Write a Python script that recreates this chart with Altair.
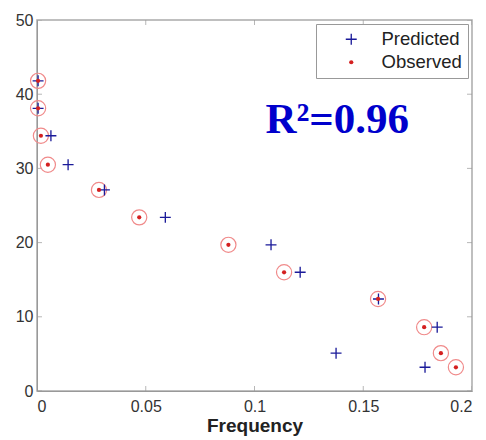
import altair as alt
import pandas as pd

# Data
obs_x = [0.0005, 0.0005, 0.0018, 0.005, 0.0285, 0.047, 0.088, 0.1136, 0.1568, 0.178, 0.1857, 0.1926]
obs_y = [41.8, 38.1, 34.4, 30.5, 27.1, 23.4, 19.7, 16.0, 12.4, 8.6, 5.1, 3.2]
pred_x = [0.0005, 0.0005, 0.0064, 0.0143, 0.031, 0.059, 0.1076, 0.121, 0.157, 0.184, 0.1375, 0.1784]
pred_y = [41.8, 38.1, 34.4, 30.5, 27.1, 23.4, 19.7, 16.0, 12.4, 8.6, 5.1, 3.2]
x_ticks = [0, 0.05, 0.1, 0.15, 0.2]
y_ticks = [0, 10, 20, 30, 40, 50]
series = ["Predicted", "Observed"]

df = pd.DataFrame({
    "x": pred_x + obs_x,
    "y": pred_y + obs_y,
    "s": ["Predicted"] * len(pred_x) + ["Observed"] * len(obs_x),
})
df["kind"] = df["s"]
obs = pd.DataFrame({"x": obs_x, "y": obs_y})
xt = pd.DataFrame({"v": x_ticks})
yt = pd.DataFrame({"v": y_ticks})

PLUS = "M-1,-0.12H-0.12V-1H0.12V-0.12H1V0.12H0.12V1H-0.12V0.12H-1Z"

xs = alt.Scale(domain=[0, 0.2], nice=False, zero=False)
ys = alt.Scale(domain=[0, 50], nice=False)

X = alt.X("x:Q", scale=xs, title="Frequency",
          axis=alt.Axis(values=x_ticks, format="~g", grid=False, ticks=False,
                        labelPadding=7, titlePadding=2, domainColor="#999",
                        labelFontSize=16, labelColor="#333", labelFont="Liberation Sans",
                        titleFont="Liberation Sans", titleFontSize=19, titleFontWeight="bold",
                        titleColor="#222"))
Y = alt.Y("y:Q", scale=ys, title=None,
          axis=alt.Axis(values=y_ticks, grid=False, ticks=False, labelPadding=4,
                        domainColor="#999", labelFontSize=16, labelColor="#333",
                        labelFont="Liberation Sans"))

circles = alt.Chart(obs).mark_point(shape="circle", filled=False, size=230,
                                    stroke="#f08a8a", strokeWidth=1.2, opacity=1).encode(
    x=X, y=Y)

leg = alt.Legend(title=None, orient="top-right", offset=4, strokeColor="#999",
                 fillColor="white", padding=6, labelFont="Liberation Sans",
                 labelFontSize=18.5, labelColor="#222", symbolOffset=20, labelOffset=21,
                 rowPadding=4, symbolSize=90)

pts = alt.Chart(df).mark_point(filled=True, opacity=1).encode(
    x=X, y=Y,
    color=alt.Color("s:N", scale=alt.Scale(domain=series, range=["#1a1a99", "#d42020"]), legend=leg),
    shape=alt.Shape("s:N", scale=alt.Scale(domain=series, range=[PLUS, "circle"]), legend=leg),
    size=alt.Size("kind:N", scale=alt.Scale(domain=series, range=[120, 18]), legend=None),
)

xtb = alt.Chart(xt).mark_tick(orient="vertical", size=10, color="#999", clip=True).encode(
    x=alt.X("v:Q", scale=xs), y=alt.datum(0, scale=ys))
xtt = alt.Chart(xt).mark_tick(orient="vertical", size=10, color="#999", clip=True).encode(
    x=alt.X("v:Q", scale=xs), y=alt.datum(50, scale=ys))
ytl = alt.Chart(yt).mark_tick(orient="horizontal", size=10, color="#999", clip=True).encode(
    y=alt.Y("v:Q", scale=ys), x=alt.datum(0, scale=xs))
ytr = alt.Chart(yt).mark_tick(orient="horizontal", size=10, color="#999", clip=True).encode(
    y=alt.Y("v:Q", scale=ys), x=alt.datum(0.2, scale=xs))

r2 = alt.Chart(pd.DataFrame({"t": ["R²=0.96"]})).mark_text(
    align="left", baseline="alphabetic", font="Liberation Serif", fontSize=43,
    fontWeight="bold", color="#0000cc").encode(
    x=alt.datum(0.105), y=alt.datum(34.8), text="t:N")

chart = alt.layer(xtb, xtt, ytl, ytr, circles, pts, r2).properties(
    width=435, height=371,
    autosize=alt.AutoSizeParams(type="none"),
    padding={"left": 29, "top": 12, "right": 6, "bottom": 48},
).configure_view(stroke="#aaa", strokeWidth=1.5)

chart.save("out.html", embed_options={"renderer": "svg", "actions": False})
